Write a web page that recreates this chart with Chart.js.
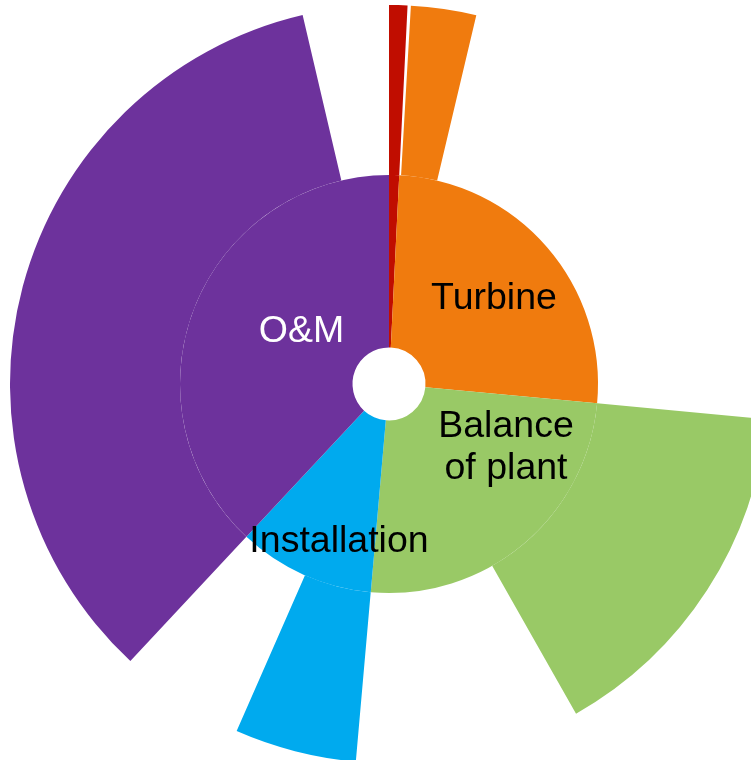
<!DOCTYPE html>
<html>
<head>
<meta charset="utf-8">
<script src="https://cdn.jsdelivr.net/npm/chart.js@4.4.1/dist/chart.umd.min.js"></script>
<style>
    html, body { margin: 0; padding: 0; background: #fff; overflow: hidden; }
    /* chart is a bit wider than the window: right side gets clipped like the original */
    #wrap { position: absolute; left: 0; top: 0; width: 778px; height: 768px; }
</style>
</head>
<body>
<div id="wrap"><canvas id="chart"></canvas></div>
<script>
/* ---------- Data (share of full circle, %) ---------- */
const categories  = ['Development', 'Turbine', 'Balance of plant', 'Installation', 'O&M'];
const innerShare  = [0.78, 25.69, 24.92, 10.56, 38.05];   // inner ring
const outerShare  = [0.78, 2.78, 15.31, 5.19, 34.39];     // coloured part of outer ring
const outerRest   = [0.14, 22.78, 9.61, 5.37, 3.66];      // empty part of outer ring
const colours     = ['#C00D00', '#F07B0E', '#99C966', '#00AAEE', '#6D329C'];

/* ---------- Labels ---------- */
const labelFont = '37.5px "Liberation Sans", Arial, sans-serif';
const labels = [
    { lines: ['Turbine'], dx: 105, dy: -75, color: '#000' },
    { lines: ['Balance', 'of plant'], dx: 117, dy: 53, color: '#000' },
    { lines: ['Installation'], dx: -50, dy: 168, color: '#000' },
    { lines: ['O&M'], dx: -87.5, dy: -42, color: '#fff' }
];

/* outer ring: coloured piece then an empty piece for each category */
const outerData = [], outerColours = [];
categories.forEach((c, i) => {
    outerData.push(outerShare[i], outerRest[i]);
    outerColours.push(colours[i], 'rgba(0,0,0,0)');
});

const sliceLabels = {
    id: 'sliceLabels',
    afterDatasetsDraw(chart) {
        const arc = chart.getDatasetMeta(1).data[0];
        const ctx = chart.ctx;
        ctx.save();
        ctx.font = labelFont;
        ctx.textAlign = 'center';
        ctx.textBaseline = 'alphabetic';
        labels.forEach(l => {
            ctx.fillStyle = l.color;
            l.lines.forEach((t, k) => {
                ctx.fillText(t, arc.x + l.dx, arc.y + l.dy + k * 42);
            });
        });
        ctx.restore();
    }
};

new Chart(document.getElementById('chart'), {
    type: 'doughnut',
    data: {
        labels: outerData.map((v, i) => categories[Math.floor(i / 2)]),
        datasets: [
            {
                data: outerData,
                backgroundColor: outerColours,
                borderWidth: 0,
                weight: 170
            },
            {
                data: innerShare,
                backgroundColor: colours,
                borderWidth: 0,
                weight: 172.5
            }
        ]
    },
    options: {
        responsive: true,
        maintainAspectRatio: false,
        animation: false,
        events: [],
        cutout: 36.5,
        layout: { padding: 5 },
        plugins: {
            legend: { display: false },
            tooltip: { enabled: false }
        }
    },
    plugins: [sliceLabels]
});
</script>
</body>
</html>
